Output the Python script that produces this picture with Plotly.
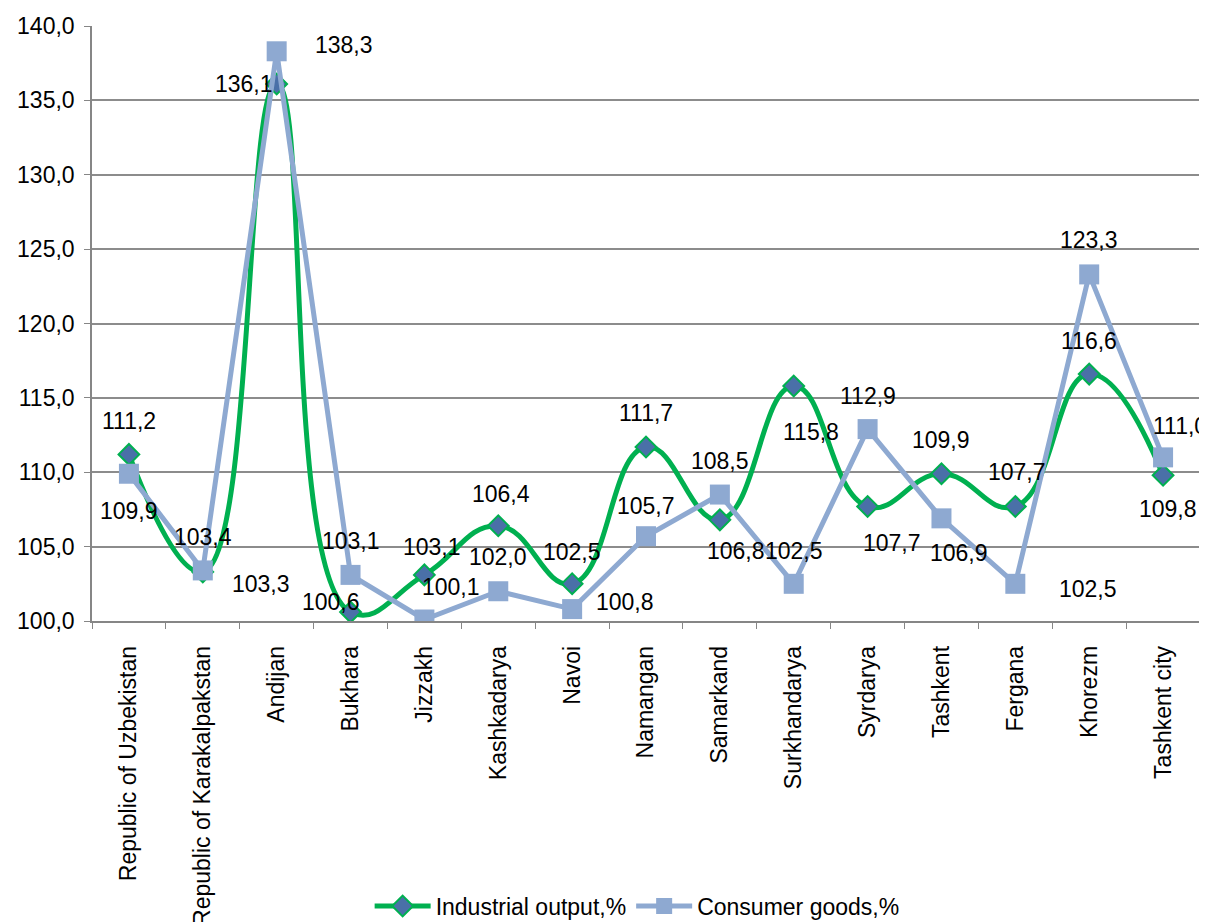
import plotly.graph_objects as go

regions = ["Republic of Uzbekistan", "Republic of Karakalpakstan", "Andijan", "Bukhara",
           "Jizzakh", "Kashkadarya", "Navoi", "Namangan", "Samarkand", "Surkhandarya",
           "Syrdarya", "Tashkent", "Fergana", "Khorezm", "Tashkent city"]
industrial = [111.2, 103.3, 136.1, 100.6, 103.1, 106.4, 102.5, 111.7, 106.8, 115.8,
              107.7, 109.9, 107.7, 116.6, 109.8]
consumer = [109.9, 103.4, 138.3, 103.1, 100.1, 102.0, 100.8, 105.7, 108.5, 102.5,
            112.9, 106.9, 102.5, 123.3, 111.0]
y_ticks = [100, 105, 110, 115, 120, 125, 130, 135, 140]

# label offsets in pixels (style): (dx, dy) with dy positive = downward
ind_off = [(0, -33), (58, 12), (-33, 0), (-20, -10), (8, -28), (3, -32), (0, -32),
           (0, -34), (16, 31), (17, 46), (24, 37), (0, -34), (2, -34), (0, -33), (5, 34)]
con_off = [(0, 37), (0, -33), (67, -6), (0, -34), (27, -33), (0, -34), (53, -7),
           (0, -30), (0, -34), (0, -33), (0, -33), (18, 35), (73, 5), (0, -34), (17, -31)]

GREEN = "#00B050"
BLUE = "#8EA9D1"
FONT = "Liberation Sans, Arial, sans-serif"
FS = 23

fig = go.Figure()
fig.add_trace(go.Scatter(
    x=regions, y=industrial, name="Industrial output,%", mode="lines+markers",
    line=dict(color=GREEN, width=5, shape="spline", smoothing=1.3),
    marker=dict(symbol="diamond", size=16, color="#4A70A8", line=dict(color=GREEN, width=2)),
))
fig.add_trace(go.Scatter(
    x=regions, y=consumer, name="Consumer goods,%", mode="lines+markers",
    line=dict(color=BLUE, width=5),
    marker=dict(symbol="square", size=20, color=BLUE),
))

def fmt(v):
    return f"{v:.1f}".replace(".", ",")

annotations = []
for vals, offs in ((industrial, ind_off), (consumer, con_off)):
    for r, v, (dx, dy) in zip(regions, vals, offs):
        annotations.append(dict(
            x=r, y=v, text=fmt(v), showarrow=False, xshift=dx, yshift=-dy,
            font=dict(family=FONT, size=FS, color="#000000"),
        ))

fig.update_layout(
    template="none",
    width=1199, height=914,
    margin=dict(l=84, r=7, t=18, b=301, autoexpand=False),
    paper_bgcolor="white", plot_bgcolor="white",
    separators=",.",
    font=dict(family=FONT, size=FS, color="#000000"),
    showlegend=True,
    legend=dict(orientation="h", x=0.492, xanchor="center", y=-0.479, yanchor="middle",
                font=dict(family=FONT, size=FS, color="#000000"), itemwidth=56,
                bgcolor="rgba(0,0,0,0)"),
    annotations=annotations,
    xaxis=dict(
        type="category", tickangle=-90, tickson="boundaries", ticks="outside", ticklen=6,
        tickcolor="#868686", showline=True, linecolor="#868686", linewidth=1.5,
        showgrid=False, automargin=False, tickfont=dict(family=FONT, size=FS),
        range=[-0.5, 14.5], ticklabelstandoff=14,
    ),
    yaxis=dict(
        range=[100, 140], tickvals=y_ticks, tickformat=".1f", ticks="outside", ticklen=6,
        tickcolor="#868686", showline=True, linecolor="#868686", linewidth=1.5,
        showgrid=True, gridcolor="#8C8C8C", gridwidth=1.5, zeroline=False,
        automargin=False, tickfont=dict(family=FONT, size=FS), ticklabelstandoff=5,
    ),
)

fig.write_html("out.html")
